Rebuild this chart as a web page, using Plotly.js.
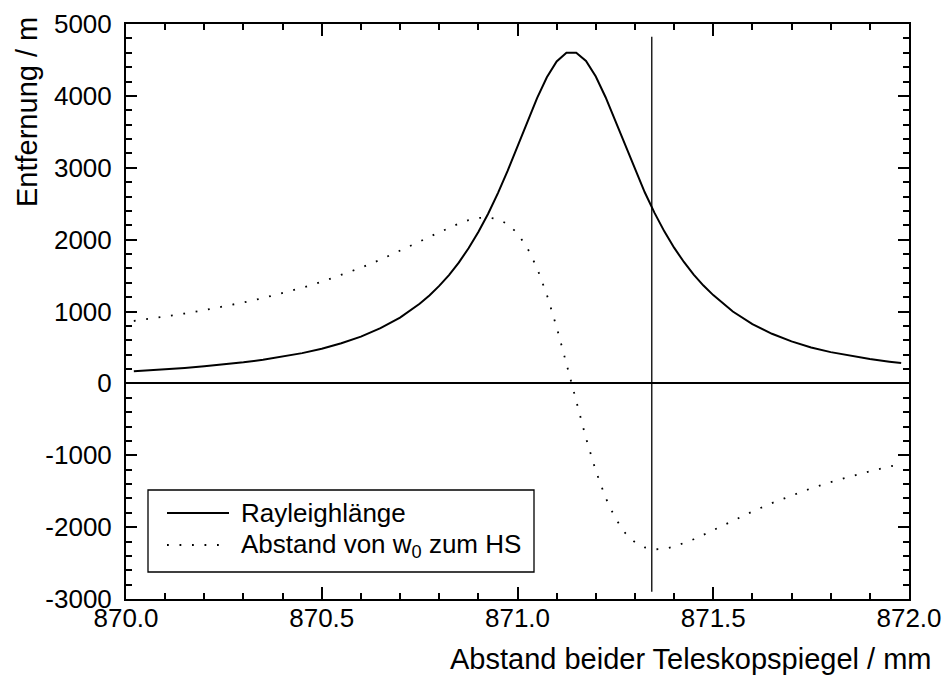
<!DOCTYPE html>
<html>
<head>
<meta charset="utf-8">
<script src="https://cdn.plot.ly/plotly-3.0.1.min.js"></script>
<style>html,body{margin:0;padding:0;background:#fff;}#chart{width:945px;height:679px;}</style>
</head>
<body>
<div id="chart"></div>
<script>
// Mirror distance (mm)
const mirrorDistance = [870.02, 870.05, 870.10, 870.15, 870.20, 870.25, 870.30, 870.35, 870.40, 870.45,
  870.50, 870.55, 870.60, 870.65, 870.70, 870.75, 870.775, 870.80, 870.825, 870.85,
  870.875, 870.90, 870.925, 870.95, 870.975, 871.00, 871.025, 871.05, 871.075, 871.10,
  871.125, 871.15, 871.175, 871.20, 871.225, 871.25, 871.275, 871.30, 871.325, 871.35,
  871.375, 871.40, 871.425, 871.45, 871.475, 871.50, 871.55, 871.60, 871.65, 871.70,
  871.75, 871.80, 871.85, 871.90, 871.95, 871.98];
// Rayleighlänge (m)
const rayleighLength = [169, 178, 195, 214, 237, 262, 293, 328, 370, 421,
  483, 558, 651, 768, 916, 1107, 1223, 1356, 1507, 1681,
  1880, 2106, 2361, 2647, 2960, 3295, 3638, 3968, 4259, 4479,
  4599, 4601, 4486, 4270, 3981, 3651, 3309, 2973, 2659, 2372,
  2115, 1888, 1689, 1514, 1361, 1228, 1000, 825, 690, 585,
  500, 435, 382, 338, 302, 283];
// Abstand von w0 zum HS (m)
const waistDistance = [868, 890, 929, 972, 1019, 1070, 1126, 1187, 1255, 1330,
  1414, 1506, 1608, 1721, 1843, 1973, 2039, 2104, 2167, 2223,
  2270, 2301, 2309, 2285, 2216, 2088, 1887, 1604, 1232, 782,
  274, -253, -762, -1216, -1591, -1878, -2081, -2212, -2283, -2309,
  -2302, -2272, -2225, -2169, -2107, -2042, -1910, -1783, -1665, -1558,
  -1460, -1373, -1293, -1222, -1157, -1121];
// Vertical marker line
const markerX = [871.343, 871.343];
const markerY = [4823, -2900];

const seriesNames = ['Rayleighlänge', 'Abstand von w<sub>0</sub> zum HS'];
const xTickVals = [870.0, 870.5, 871.0, 871.5, 872.0];
const xTickText = ['870.0', '870.5', '871.0', '871.5', '872.0'];
const yTickVals = [-3000, -2000, -1000, 0, 1000, 2000, 3000, 4000, 5000];
const yTickText = ['-3000', '-2000', '-1000', '0', '1000', '2000', '3000', '4000', '5000'];
const xTitle = 'Abstand beider Teleskopspiegel / mm';
const yTitle = 'Entfernung / m';

const FONT = 'Arial, "Liberation Sans", Helvetica, sans-serif';

const traces = [
  {x: mirrorDistance, y: rayleighLength, type: 'scatter', mode: 'lines', name: seriesNames[0],
   line: {color: '#000', width: 2}, showlegend: false},
  {x: mirrorDistance, y: waistDistance, type: 'scatter', mode: 'lines', name: seriesNames[1],
   line: {color: '#000', width: 1.8, dash: '1.8px,10.7px'}, showlegend: false},
  {x: markerX, y: markerY, type: 'scatter', mode: 'lines', line: {color: '#000', width: 1.3},
   showlegend: false, hoverinfo: 'skip'}
];

const axisCommon = {
  showline: true, linecolor: '#000', linewidth: 2, mirror: 'allticks',
  ticks: 'inside', tickcolor: '#000', tickwidth: 2,
  showgrid: false, tickfont: {family: FONT, size: 26, color: '#000'}
};

const L = 126, T = 24, W = 783, H = 575;
const px = v => (v - L) / W;
const py = v => 1 - (v - T) / H;

const layout = {
  width: 945, height: 679,
  margin: {l: L, r: 945 - L - W, t: T, b: 679 - T - H, pad: 0},
  paper_bgcolor: '#fff', plot_bgcolor: '#fff',
  font: {family: FONT, color: '#000'},
  showlegend: false,
  xaxis: Object.assign({}, axisCommon, {
    range: [870, 872], tickvals: xTickVals, ticktext: xTickText, ticklen: 12,
    zeroline: false, ticklabelstandoff: -5,
    minor: {dtick: 0.1, tick0: 870, ticks: 'inside', ticklen: 6, tickwidth: 2, tickcolor: '#000', showgrid: false}
  }),
  yaxis: Object.assign({}, axisCommon, {
    range: [-3000, 5000], tickvals: yTickVals, ticktext: yTickText, ticklen: 11,
    zeroline: true, zerolinecolor: '#000', zerolinewidth: 2, ticklabelstandoff: 7,
    minor: {dtick: 200, tick0: 0, ticks: 'inside', ticklen: 6, tickwidth: 2, tickcolor: '#000', showgrid: false}
  }),
  shapes: [
    {type: 'rect', xref: 'paper', yref: 'paper', x0: px(148), x1: px(534), y0: py(572), y1: py(490),
     line: {color: '#000', width: 1.3}, fillcolor: '#fff', layer: 'above'},
    {type: 'line', xref: 'paper', yref: 'paper', x0: px(167), x1: px(229), y0: py(513), y1: py(513),
     line: {color: '#000', width: 2}},
    {type: 'line', xref: 'paper', yref: 'paper', x0: px(167), x1: px(229), y0: py(545), y1: py(545),
     line: {color: '#000', width: 1.8, dash: '1.8px,10.7px'}}
  ],
  annotations: [
    {text: seriesNames[0], xref: 'paper', yref: 'paper', x: px(239), y: py(513), xanchor: 'left', yanchor: 'middle',
     showarrow: false, font: {family: FONT, size: 26, color: '#000'}},
    {text: seriesNames[1], xref: 'paper', yref: 'paper', x: px(239), y: py(545), xanchor: 'left', yanchor: 'middle',
     showarrow: false, font: {family: FONT, size: 26, color: '#000'}},
    {text: xTitle, xref: 'paper', yref: 'paper', x: px(933), y: py(659), xanchor: 'right', yanchor: 'middle',
     showarrow: false, font: {family: FONT, size: 29, color: '#000'}},
    {text: yTitle, xref: 'paper', yref: 'paper', x: px(27), y: py(112), xanchor: 'center', yanchor: 'middle',
     textangle: -90, showarrow: false, font: {family: FONT, size: 29, color: '#000'}}
  ]
};

Plotly.newPlot('chart', traces, layout, {displayModeBar: false, staticPlot: true});
</script>
</body>
</html>
